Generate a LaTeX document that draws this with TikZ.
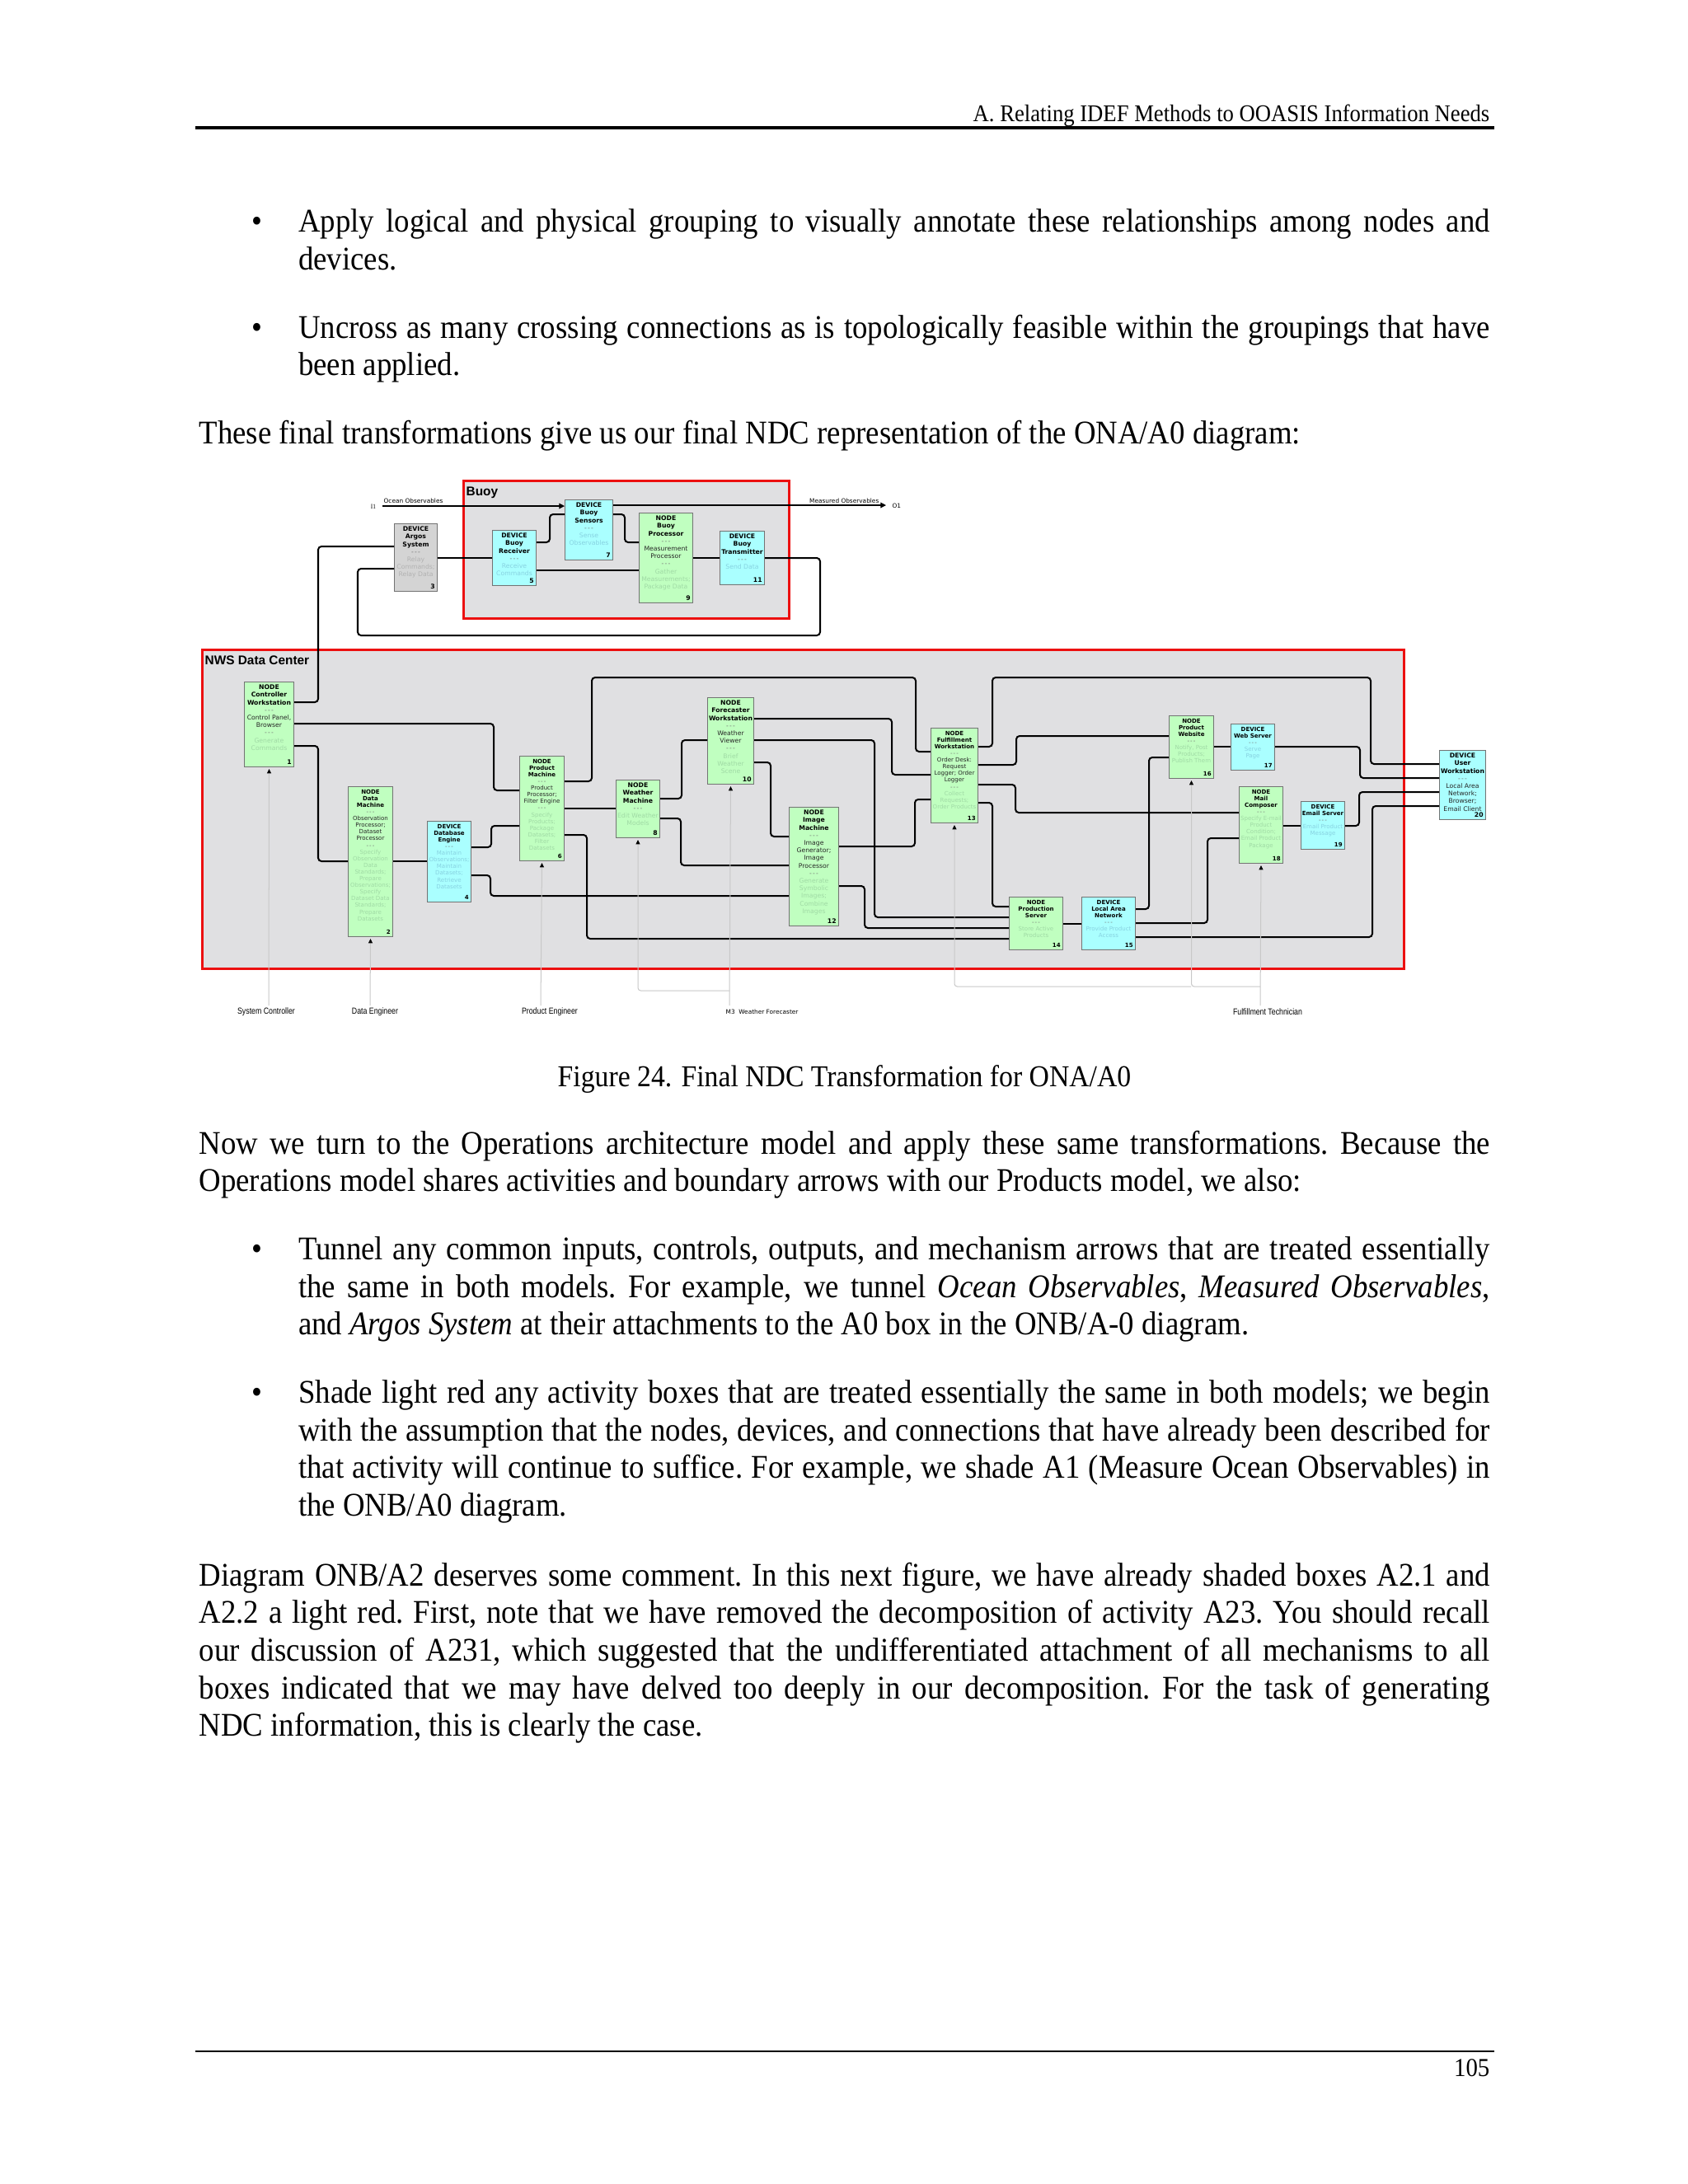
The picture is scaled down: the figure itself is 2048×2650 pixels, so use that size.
\documentclass[tikz,border=0pt]{standalone}
\usepackage{fontspec}
\setmainfont{Liberation Serif}[FakeStretch=0.916]
\newfontfamily\boxfont{DejaVu Sans}
\newfontfamily\lblfont{Liberation Sans}
\usetikzlibrary{arrows.meta}
\definecolor{ngreen}{RGB}{192,255,192}
\definecolor{dcyan}{RGB}{170,255,255}
\definecolor{agray}{RGB}{212,212,212}
\definecolor{grpbg}{RGB}{224,224,226}
\definecolor{grpred}{RGB}{236,16,16}
\definecolor{fg}{RGB}{160,218,165}
\definecolor{fc}{RGB}{135,210,225}
\definecolor{fy}{RGB}{178,178,178}
\definecolor{mechc}{RGB}{200,200,200}
\newcommand{\Tt}[1]{\textbf{#1}}
\newcommand{\Ds}{\textcolor{black!55}{-\,-\,-}}
\newcommand{\Md}[1]{\textcolor{black!85}{#1}}
\newcommand{\Fg}[1]{\textcolor{fg}{#1}}
\newcommand{\Fc}[1]{\textcolor{fc}{#1}}
\newcommand{\Fy}[1]{\textcolor{fy}{#1}}
\newcommand{\bodyf}{\fontsize{12}{13.65}\selectfont\frenchspacing\hyphenpenalty=10000\exhyphenpenalty=10000\spaceskip=\fontdimen2\font plus \fontdimen3\font minus 0pt\relax}
% box: name, x1, y1, x2, y2, fill style, text style, text, number
\newcommand{\ndc}[9]{%
  \node[boxst,#6,anchor=north west,minimum width={(#4-#2)*0.29883pt},minimum height={(#5-#3)*0.29883pt}] (#1) at (#2,#3) {};
  \node[#7,anchor=north,align=center,inner sep=0pt] (#1-t) at ([yshift=-1.0pt]#1.north) {#8};
  \node[#7,anchor=south east,inner sep=0.8pt] (#1-n) at (#1.south east) {\bfseries #9};
}
\tikzset{
  boxst/.style={draw=black!55,line width=0.3pt,rectangle,inner sep=0pt},
  gnode/.style={fill=ngreen},
  cdev/.style={fill=dcyan},
  gdev/.style={fill=agray},
  ta/.style={font=\boxfont\fontsize{2.3}{2.75}\selectfont},
  tb/.style={font=\boxfont\fontsize{2.1}{2.42}\selectfont},
  wire/.style={draw=black,line width=0.6pt,rounded corners=1.2pt},
  io/.style={draw=black,line width=0.35pt,-{Triangle[length=2pt,width=2pt]}},
  mech/.style={draw=mechc,line width=0.3pt,rounded corners=1pt},
  mecharr/.style={mech,-{Triangle[length=1.6pt,width=1.5pt,color=black]}},
  grp/.style={fill=grpbg,draw=grpred,line width=0.9pt,rectangle,inner sep=0pt},
  grplbl/.style={font=\lblfont\bfseries\fontsize{4.6}{5}\selectfont,inner sep=0pt,anchor=north west},
  mlbl/.style={font=\lblfont\fontsize{3.2}{3.6}\selectfont,inner sep=0pt},
  smalllbl/.style={font=\boxfont\fontsize{2.2}{2.6}\selectfont,inner sep=0pt},
}
\begin{document}
\begin{tikzpicture}[x=0.29883pt,y=-0.29883pt]
\useasboundingbox (0,0) rectangle (2048,2650);
\fill[white] (0,0) rectangle (2048,2650);

% ---------- page text ----------
\node[anchor=base east,inner sep=0,font=\fontsize{8.7}{10}\selectfont] (hdr) at (1808,147) {A. Relating IDEF Methods to OOASIS Information Needs};
\draw[line width=1pt] (237,155) -- (1813,155);

\node[anchor=base,inner sep=0] (bl1) at (312,281.5) {\bodyf\textbullet};
\node[anchor=base west,inner sep=0] (t1) at (361.5,281.5) {\parbox[t]{432pt}{\bodyf Apply logical and physical grouping to visually annotate these relationships among nodes and devices.}};
\node[anchor=base,inner sep=0] (bl2) at (312,410) {\bodyf\textbullet};
\node[anchor=base west,inner sep=0] (t2) at (361.5,410) {\parbox[t]{432pt}{\bodyf Uncross as many crossing connections as is topologically feasible within the groupings that have been applied.}};
\node[anchor=base west,inner sep=0] (t3) at (241,538) {\parbox[t]{468pt}{\bodyf These final transformations give us our final NDC representation of the ONA/A0 diagram:}};

\node[anchor=base,inner sep=0] (cap) at (1024.5,1318) {\fontsize{11}{13}\selectfont Figure 24. Final NDC Transformation for ONA/A0};

\node[anchor=base west,inner sep=0] (t4) at (241,1400) {\parbox[t]{468pt}{\bodyf Now we turn to the Operations architecture model and apply these same transformations. Because the Operations model shares activities and boundary arrows with our Products model, we also:}};
\node[anchor=base,inner sep=0] (bl3) at (312,1528.5) {\bodyf\textbullet};
\node[anchor=base west,inner sep=0] (t5) at (361.5,1528.5) {\parbox[t]{432pt}{\bodyf Tunnel any common inputs, controls, outputs, and mechanism arrows that are treated essentially the same in both models. For example, we tunnel \textit{Ocean Observables}, \textit{Measured Observables}, and \textit{Argos System} at their attachments to the A0 box in the ONB/A-0 diagram.}};
\node[anchor=base,inner sep=0] (bl4) at (312,1702.5) {\bodyf\textbullet};
\node[anchor=base west,inner sep=0] (t6) at (361.5,1702.5) {\parbox[t]{432pt}{\bodyf Shade light red any activity boxes that are treated essentially the same in both models; we begin with the assumption that the nodes, devices, and connections that have already been described for that activity will continue to suffice. For example, we shade A1 (Measure Ocean Observables) in the ONB/A0 diagram.}};
\node[anchor=base west,inner sep=0] (t7) at (241,1924) {\parbox[t]{468pt}{\bodyf Diagram ONB/A2 deserves some comment. In this next figure, we have already shaded boxes A2.1 and A2.2 a light red. First, note that we have removed the decomposition of activity A23. You should recall our discussion of A231, which suggested that the undifferentiated attachment of all mechanisms to all boxes indicated that we may have delved too deeply in our decomposition. For the task of generating NDC information, this is clearly the case.}};

\draw[line width=0.6pt] (237,2489) -- (1813,2489);
\node[anchor=base east,inner sep=0,font=\fontsize{9.4}{11}\selectfont] (pgno) at (1808,2519) {105};

% ---------- groups ----------
\node[grp,anchor=north west,minimum width={(956-561)*0.29883pt},minimum height={(749-582)*0.29883pt}] (buoy) at (561,582) {};
\node[grplbl] (buoyl) at (565,590) {Buoy};
\node[grp,anchor=north west,minimum width={(1702-244)*0.29883pt},minimum height={(1174-787)*0.29883pt}] (nws) at (244,787) {};
\node[grplbl] (nwsl) at (248,795) {NWS Data Center};

% ---------- boxes ----------
\ndc{argos}{478}{635}{530}{717}{gdev}{ta}{\Tt{DEVICE}\\\Tt{Argos}\\\Tt{System}\\\Ds\\\Fy{Relay}\\\Fy{Commands;}\\\Fy{Relay Data}}{3}
\ndc{brx}{597}{643}{650}{710}{cdev}{ta}{\Tt{DEVICE}\\\Tt{Buoy}\\\Tt{Receiver}\\\Ds\\\Fc{Receive}\\\Fc{Commands}}{5}
\ndc{bsens}{685}{606}{743}{679}{cdev}{ta}{\Tt{DEVICE}\\\Tt{Buoy}\\\Tt{Sensors}\\\Ds\\\Fc{Sense}\\\Fc{Observables}}{7}
\ndc{bproc}{775}{622}{840}{731}{gnode}{ta}{\Tt{NODE}\\\Tt{Buoy}\\\Tt{Processor}\\\Ds\\\Md{Measurement}\\\Md{Processor}\\\Ds\\\Fg{Gather}\\\Fg{Measurements;}\\\Fg{Package Data}}{9}
\ndc{btx}{873}{644}{927}{709}{cdev}{ta}{\Tt{DEVICE}\\\Tt{Buoy}\\\Tt{Transmitter}\\\Ds\\\Fc{Send Data}}{11}

\ndc{ctrl}{296}{827}{356}{930}{gnode}{ta}{\Tt{NODE}\\\Tt{Controller}\\\Tt{Workstation}\\\Ds\\\Md{Control Panel,}\\\Md{Browser}\\\Ds\\\Fg{Generate}\\\Fg{Commands}}{1}
\ndc{dm}{422}{954}{476}{1136}{gnode}{tb}{\Tt{NODE}\\\Tt{Data}\\\Tt{Machine}\\\Ds\\\Md{Observation}\\\Md{Processor;}\\\Md{Dataset}\\\Md{Processor}\\\Ds\\\Fg{Specify}\\\Fg{Observation}\\\Fg{Data}\\\Fg{Standards;}\\\Fg{Prepare}\\\Fg{Observations;}\\\Fg{Specify}\\\Fg{Dataset Data}\\\Fg{Standards;}\\\Fg{Prepare}\\\Fg{Datasets}}{2}
\ndc{db}{518}{996}{571}{1094}{cdev}{tb}{\Tt{DEVICE}\\\Tt{Database}\\\Tt{Engine}\\\Ds\\\Fc{Maintain}\\\Fc{Observations;}\\\Fc{Maintain}\\\Fc{Datasets;}\\\Fc{Retrieve}\\\Fc{Datasets}}{4}
\ndc{pm}{630}{917}{684}{1044}{gnode}{tb}{\Tt{NODE}\\\Tt{Product}\\\Tt{Machine}\\\Ds\\\Md{Product}\\\Md{Processor;}\\\Md{Filter Engine}\\\Ds\\\Fg{Specify}\\\Fg{Products;}\\\Fg{Package}\\\Fg{Datasets;}\\\Fg{Filter}\\\Fg{Datasets}}{6}
\ndc{wm}{747}{946}{800}{1016}{gnode}{ta}{\Tt{NODE}\\\Tt{Weather}\\\Tt{Machine}\\\Ds\\\Fg{Edit Weather}\\\Fg{Models}}{8}
\ndc{fw}{858}{846}{914}{951}{gnode}{ta}{\Tt{NODE}\\\Tt{Forecaster}\\\Tt{Workstation}\\\Ds\\\Md{Weather}\\\Md{Viewer}\\\Ds\\\Fg{Brief}\\\Fg{Weather}\\\Fg{Scene}}{10}
\ndc{im}{957}{979}{1017}{1123}{gnode}{ta}{\Tt{NODE}\\\Tt{Image}\\\Tt{Machine}\\\Ds\\\Md{Image}\\\Md{Generator;}\\\Md{Image}\\\Md{Processor}\\\Ds\\\Fg{Generate}\\\Fg{Symbolic}\\\Fg{Images;}\\\Fg{Combine}\\\Fg{Images}}{12}
\ndc{ful}{1129}{883}{1186}{998}{gnode}{tb}{\Tt{NODE}\\\Tt{Fulfillment}\\\Tt{Workstation}\\\Ds\\\Md{Order Desk:}\\\Md{Request}\\\Md{Logger; Order}\\\Md{Logger}\\\Ds\\\Fg{Collect}\\\Fg{Requests;}\\\Fg{Order Products}}{13}
\ndc{ps}{1224}{1088}{1289}{1152}{gnode}{tb}{\Tt{NODE}\\\Tt{Production}\\\Tt{Server}\\\Ds\\\Fg{Store Active}\\\Fg{Products}}{14}
\ndc{lan}{1312}{1088}{1377}{1152}{cdev}{tb}{\Tt{DEVICE}\\\Tt{Local Area}\\\Tt{Network}\\\Ds\\\Fc{Provide Product}\\\Fc{Access}}{15}
\ndc{web}{1418}{868}{1472}{944}{gnode}{tb}{\Tt{NODE}\\\Tt{Product}\\\Tt{Website}\\\Ds\\\Fg{Notify, Post}\\\Fg{Products;}\\\Fg{Publish Them}}{16}
\ndc{wsv}{1493}{878}{1546}{934}{cdev}{tb}{\Tt{DEVICE}\\\Tt{Web Server}\\\Ds\\\Fc{Serve}\\\Fc{Page}}{17}
\ndc{mc}{1503}{954}{1556}{1047}{gnode}{tb}{\Tt{NODE}\\\Tt{Mail}\\\Tt{Composer}\\\Ds\\\Fg{Specify E-mail}\\\Fg{Product}\\\Fg{Condition;}\\\Fg{Email Product}\\\Fg{Package}}{18}
\ndc{es}{1578}{972}{1631}{1030}{cdev}{tb}{\Tt{DEVICE}\\\Tt{Email Server}\\\Ds\\\Fc{Email Product}\\\Fc{Message}}{19}
\ndc{uw}{1746}{910}{1802}{994}{cdev}{ta}{\Tt{DEVICE}\\\Tt{User}\\\Tt{Workstation}\\\Ds\\\Md{Local Area}\\\Md{Network;}\\\Md{Browser;}\\\Md{Email Client}}{20}

% ---------- wires ----------
\draw[wire] (argos.west |- 0,663) -| (386,852) -- (ctrl.east |- 0,852);
\draw[wire] (argos.east |- 0,677) -- (brx.west |- 0,677);
\draw[wire] (brx.east |- 0,658) -| (667,624) -- (bsens.west |- 0,624);
\draw[wire] (bsens.east |- 0,624) -| (758,658) -- (bproc.west |- 0,658);
\draw[wire] (brx.east |- 0,692) -- (bproc.west |- 0,692);
\draw[wire] (bproc.east |- 0,677) -- (btx.west |- 0,677);
\draw[wire] (btx.east |- 0,677) -| (995,771) -| (434,690) -- (argos.west |- 0,690);

\draw[wire] (ctrl.east |- 0,878) -| (599,959) -- (pm.west |- 0,959);
\draw[wire] (ctrl.east |- 0,905) -| (386,1045) -- (dm.west |- 0,1045);
\draw[wire] (dm.east |- 0,1045) -- (db.west |- 0,1045);
\draw[wire] (db.east |- 0,1028) -| (596,1002) -- (pm.west |- 0,1002);
\draw[wire] (db.east |- 0,1062) -| (595,1087) -- (im.west |- 0,1087);
\draw[wire] (pm.east |- 0,948) -| (718,822) -| (1111,912) -- (ful.west |- 0,912);
\draw[wire] (pm.east |- 0,981) -- (wm.west |- 0,981);
\draw[wire] (pm.east |- 0,1013) -| (712,1139) -- (ps.west |- 0,1139);
\draw[wire] (wm.east |- 0,969) -| (827,898) -- (fw.west |- 0,898);
\draw[wire] (wm.east |- 0,993) -| (826,1050) -- (im.west |- 0,1050);
\draw[wire] (fw.east |- 0,872) -| (1082,940) -- (ful.west |- 0,940);
\draw[wire] (fw.east |- 0,898) -| (1061,1113) -- (ps.west |- 0,1113);
\draw[wire] (fw.east |- 0,925) -| (935,1015) -- (im.west |- 0,1015);
\draw[wire] (im.east |- 0,1027) -| (1110,970) -- (ful.west |- 0,970);
\draw[wire] (im.east |- 0,1075) -| (1049,1126) -- (ps.west |- 0,1126);
\draw[wire] (ful.east |- 0,906) -| (1204,822) -| (1663,927) -- (uw.west |- 0,927);
\draw[wire] (ful.east |- 0,928) -| (1233,893) -- (web.west |- 0,893);
\draw[wire] (ful.east |- 0,952) -| (1232,986) -- (mc.west |- 0,986);
\draw[wire] (ful.east |- 0,974) -| (1204,1100) -- (ps.west |- 0,1100);
\draw[wire] (ps.east |- 0,1121) -- (lan.west |- 0,1121);
\draw[wire] (lan.east |- 0,1103) -| (1394,919) -- (web.west |- 0,919);
\draw[wire] (lan.east |- 0,1120) -| (1465,1017) -- (mc.west |- 0,1017);
\draw[wire] (lan.east |- 0,1137) -| (1665,978) -- (uw.west |- 0,978);
\draw[wire] (web.east |- 0,906) -- (wsv.west |- 0,906);
\draw[wire] (wsv.east |- 0,906) -| (1650,944) -- (uw.west |- 0,944);
\draw[wire] (mc.east |- 0,1002) -- (es.west |- 0,1002);
\draw[wire] (es.east |- 0,1002) -| (1649,961) -- (uw.west |- 0,961);

% ---------- inputs / outputs ----------
\coordinate (i1) at (464,614);
\coordinate (o1) at (1075,613);
\draw[io] (i1) -- (bsens.west |- i1);
\draw[io] (bsens.east |- o1) -- (o1);
\node[smalllbl,font=\fontsize{2.4}{2.8}\selectfont] (i1l) at (453,615) {I1};
\node[smalllbl,anchor=west] (o1l) at (1082,614) {O1};
\node[smalllbl,anchor=south west] (ocl) at (465,611) {Ocean Observables};
\node[smalllbl,anchor=south east] (mol) at (1067,611) {Measured Observables};

% ---------- mechanisms ----------
\coordinate (msc) at (326,1220);
\coordinate (mde) at (449,1220);
\coordinate (mpe) at (656,1220);
\coordinate (mwf) at (885,1220);
\coordinate (mft) at (1529,1220);
\draw[mecharr] (msc) -- ([yshift=-0.6pt]ctrl.south);
\draw[mecharr] (mde) -- ([yshift=-0.6pt]dm.south);
\draw[mecharr] (mpe) -- ([yshift=-0.6pt]pm.south);
\draw[mecharr] (mwf) -- ([yshift=-0.6pt]fw.south);
\draw[mecharr] (885,1202) -| ([yshift=-0.6pt]wm.south);
\draw[mecharr] (mft) -- ([yshift=-0.6pt]mc.south);
\draw[mecharr] (1529,1197) -| ([yshift=-0.6pt]web.south);
\draw[mecharr] (1445,1197) -| ([yshift=-0.6pt]ful.south);

\node[mlbl] (lsc) at (323,1228) {\scalebox{0.82}[1]{System Controller}};
\node[mlbl] (lde) at (455,1228) {\scalebox{0.82}[1]{Data Engineer}};
\node[mlbl] (lpe) at (667,1228) {\scalebox{0.82}[1]{Product Engineer}};
\node[smalllbl,anchor=west] (lwf) at (880,1228) {M3\ \ Weather Forecaster};
\node[mlbl] (lft) at (1538,1228) {\scalebox{0.82}[1]{Fulfillment Technician}};
\end{tikzpicture}
\end{document}
